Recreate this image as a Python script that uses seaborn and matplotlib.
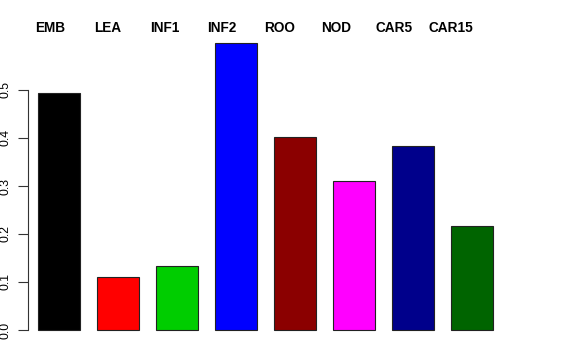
import matplotlib
matplotlib.use("Agg")
import matplotlib.pyplot as plt
import seaborn as sns
import numpy as np
import pandas as pd

categories = ["EMB", "LEA", "INF1", "INF2", "ROO", "NOD", "CAR5", "CAR15"]
values = [0.494, 0.110, 0.133, 0.598, 0.402, 0.310, 0.383, 0.217]
colors = ["#000000", "#FF0000", "#00CD00", "#0000FF", "#8B0000", "#FF00FF", "#00008B", "#006400"]
yticks = [0.0, 0.1, 0.2, 0.3, 0.4, 0.5]

sns.set_style("white")
plt.rcParams["font.family"] = ["Liberation Sans", "DejaVu Sans"]
plt.rcParams["text.color"] = "black"
plt.rcParams["ytick.color"] = "black"

df = pd.DataFrame({"cat": categories, "val": values})

fig = plt.figure(figsize=(5.76, 3.6), dpi=100)
ax = fig.add_axes([28/576, 20/360, 532/576, 320/360])
sns.barplot(data=df, x="cat", y="val", hue="cat", palette=colors, dodge=False,
            width=0.712, edgecolor="#222222", linewidth=0.8, legend=False, ax=ax,
            saturation=1)

ax.set_xlim(-31/59, 501/59)
ax.set_ylim(-10/480, 310/480)
for s in ["top", "right", "bottom"]:
    ax.spines[s].set_visible(False)
ax.spines["left"].set_bounds(0, 0.5)
ax.spines["left"].set_color("#333333")
ax.spines["left"].set_linewidth(0.8)
ax.set_yticks(yticks)
ax.set_yticklabels([f"{t:.1f}" for t in yticks], rotation=90, va="center", fontsize=8.8,
                   color="black")
ax.tick_params(axis="y", length=7, width=0.8, color="#333333", left=True, pad=5)
ax.set_xticks([])
ax.set_xlabel("")
ax.set_ylabel("")

label_x = np.arange(len(categories)) * 0.971 - 0.153
for lx, c in zip(label_x, categories):
    ax.text(lx, 302/480, c, ha="center", va="center", fontsize=9.8, fontweight="bold",
            color="black")

fig.savefig("out.png", dpi=100)
